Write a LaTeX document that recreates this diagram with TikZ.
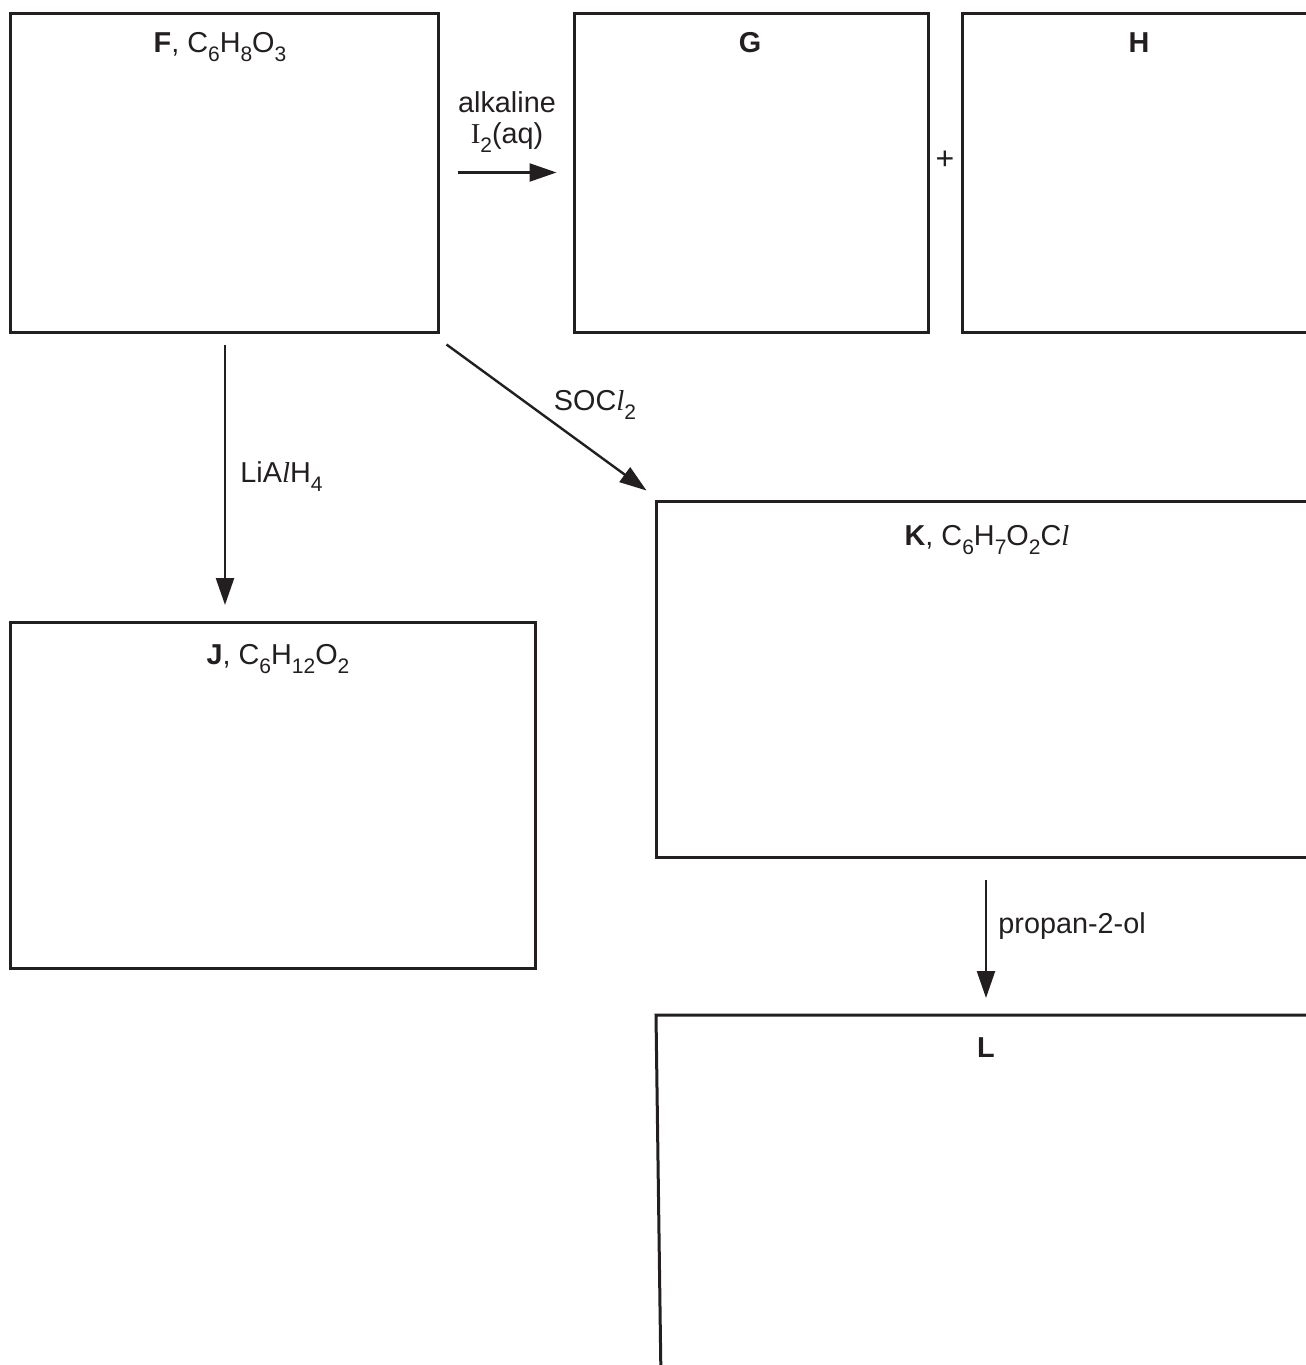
\documentclass[tikz,border=0pt]{standalone}
\usepackage{fontspec}
\setmainfont{Liberation Sans}
\newfontfamily\serifface{Liberation Serif}
\usetikzlibrary{arrows.meta}
\definecolor{ink}{RGB}{35,31,32}
\newcommand{\sbs}[1]{\raisebox{-0.32em}{\fontsize{10.5}{10.5}\selectfont #1}}
\newcommand{\itl}{{\serifface\itshape l}}

\begin{document}
\begin{tikzpicture}[x=0.5pt,y=0.5pt,yscale=-1,xscale=1,
  box/.style={draw=ink, line width=1.5pt, rectangle, inner sep=0pt},
  lbl/.style={text=ink, font=\fontsize{14.4}{17}\selectfont, inner sep=0pt},
  rxn/.style={draw=ink, line width=1.2pt, -{Triangle[length=13.5pt,width=9pt]}}]
\useasboundingbox (0,0) rectangle (1306,1365);
\clip (0,0) rectangle (1306,1365);

%Boxes
\node[box, minimum width=214pt, minimum height=159.5pt] (F) at (224,172.5) {};
\node[box, minimum width=177pt, minimum height=159.5pt] (G) at (751,172.5) {};
\node[box, minimum width=177pt, minimum height=159.5pt] (H) at (1139,172.5) {};
\node[box, minimum width=331pt, minimum height=178pt] (K) at (987,679) {};
\node[box, minimum width=262.5pt, minimum height=173pt] (J) at (272.5,795) {};
%L is open at the bottom and right
\draw[draw=ink, line width=1.5pt] (661,1380) -- (656,1015) -- (1330,1015);
\coordinate (Ltop) at (986,1015);
\coordinate (Jtop) at (225,622);

% Text Node
\node[lbl, anchor=base] (Flbl) at (220,52) {\textbf{F}, C\sbs{6}H\sbs{8}O\sbs{3}};
% Text Node
\node[lbl, anchor=base] (Glbl) at (750,52) {\textbf{G}};
% Text Node
\node[lbl, anchor=base] (Hlbl) at (1139,52) {\textbf{H}};
% Text Node
\node[lbl, anchor=base] (Klbl) at (987,545) {\textbf{K}, C\sbs{6}H\sbs{7}O\sbs{2}C\itl};
% Text Node
\node[lbl, anchor=base] (Jlbl) at (278,664) {\textbf{J}, C\sbs{6}H\sbs{12}O\sbs{2}};
% Text Node
\node[lbl, anchor=base] (Llbl) at (986,1057) {\textbf{L}};
% Text Node
\node[lbl, font=\fontsize{16}{17}\selectfont] (plus) at (945,160) {+};

%Reactions
\draw[rxn] ([xshift=9pt]F.east) -- ([xshift=-8pt]G.west);
\draw[rxn] ([yshift=5.5pt]Jtop |- F.south) -- ([yshift=-8.5pt]Jtop);
\draw[rxn] ([shift={(7,11)}]F.south east) -- ([shift={(-8,-9)}]K.north west);
\draw[rxn] ([yshift=10.5pt]Ltop |- K.south) -- ([yshift=-8.5pt]Ltop);

% Text Node
\node[lbl, anchor=base] (alk) at (507,112) {alkaline};
% Text Node
\node[lbl, anchor=base] (iod) at (507,143) {{\serifface I}\sbs{2}(aq)};
% Text Node
\node[lbl, anchor=base] (socl) at (595,410) {SOC\itl\sbs{2}};
% Text Node
\node[lbl, anchor=base west] (lialh) at (240,482) {LiA\itl H\sbs{4}};
% Text Node
\node[lbl, anchor=base west] (prop) at (998,933) {propan-2-ol};

\end{tikzpicture}
\end{document}
